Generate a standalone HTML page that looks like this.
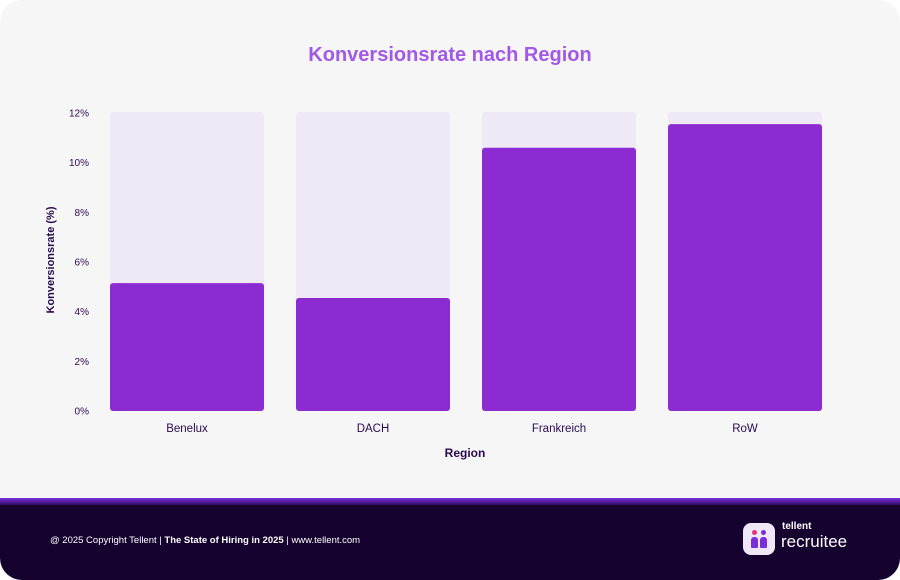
<!DOCTYPE html>
<html><head><meta charset="utf-8"><style>
body{margin:0;width:900px;height:580px;background:#fff;font-family:"Liberation Sans",sans-serif;overflow:hidden}
#card{position:absolute;left:0;top:0;width:900px;height:580px;border-radius:22px;background:#f6f6f6;overflow:hidden}
#footer{position:absolute;left:0;top:498px;width:900px;height:82px;background:#16022f;border-top:7px solid #6a24c8;box-sizing:border-box}
#grad{position:absolute;left:0;top:498px;width:900px;height:8px;background:linear-gradient(#7b2fe0,#2a0650)}
</style></head><body>
<div id="card">
<svg id="chart" width="900" height="500" style="position:absolute;left:0;top:0">
<text x="450" y="61" text-anchor="middle" font-size="20" font-weight="bold" fill="#a259e6">Konversionsrate nach Region</text>
<text transform="translate(54,260) rotate(-90)" text-anchor="middle" font-size="11" font-weight="bold" fill="#2a0a4f">Konversionsrate (%)</text>
<text x="465" y="457" text-anchor="middle" font-size="12" font-weight="bold" fill="#2a0a4f">Region</text>
<g id="plot"></g>
</svg>
<div id="grad"></div>
<div style="position:absolute;left:0;top:505px;width:900px;height:75px;background:#16022f">
<div style="position:absolute;left:50px;top:30px;font-size:9.5px;color:#fff">@ 2025 Copyright Tellent | <b>The State of Hiring in 2025</b> | www.tellent.com</div>
<div style="position:absolute;left:743px;top:18px;width:32px;height:32px;border-radius:8px;background:#efe6f8">
<div style="position:absolute;left:9px;top:7px;width:5px;height:5px;border-radius:50%;background:#e8327c"></div>
<div style="position:absolute;left:18px;top:7px;width:5px;height:5px;border-radius:50%;background:#7a2ed6"></div>
<div style="position:absolute;left:8px;top:14px;width:7px;height:11px;border-radius:3px 3px 1px 1px;background:#7a2ed6"></div>
<div style="position:absolute;left:17px;top:14px;width:7px;height:11px;border-radius:3px 3px 1px 1px;background:#7a2ed6"></div>
</div>
<div style="position:absolute;left:782px;top:16px;font-size:10px;font-weight:bold;color:#fff">tellent</div>
<div style="position:absolute;left:781px;top:27px;font-size:17px;color:#fff">recruitee</div>
</div>
</div>
<script>
const categories=["Benelux","DACH","Frankreich","RoW"];
const values=[5.15,4.55,10.6,11.55];
const ticks=[0,2,4,6,8,10,12];
const yMax=12;
const ns="http://www.w3.org/2000/svg";
const g=document.getElementById('plot');
const y0=411,y1=113;
const y=v=>y0-(v/yMax)*(y0-y1);
const x0=94,step=186,bw=154,pad=16;
const x=i=>x0+pad+i*step;
function mk(t,a){const e=document.createElementNS(ns,t);for(const k in a)e.setAttribute(k,a[k]);g.appendChild(e);return e;}
ticks.forEach(t=>{
 const e=mk('text',{x:89,y:y(t)+3.5,'text-anchor':'end','font-size':10,fill:'#2a0a4f'});
 e.textContent=t+'%';
 
 
});
categories.forEach((c,i)=>{
 const bg=mk('rect',{x:x(i),y:y(yMax)-1,width:bw,height:y0-y(yMax)+1,rx:4,fill:'#efe9f5'});
 
 
 const b=mk('rect',{x:x(i),y:y(values[i]),width:bw,height:y0-y(values[i]),rx:3,fill:'#8b2bd1'});
 
 
 const l=mk('text',{x:x(i)+bw/2,y:432,'text-anchor':'middle','font-size':11.5,fill:'#2a0a4f'});
 l.textContent=c;
 
 
});
</script>
</body></html>
